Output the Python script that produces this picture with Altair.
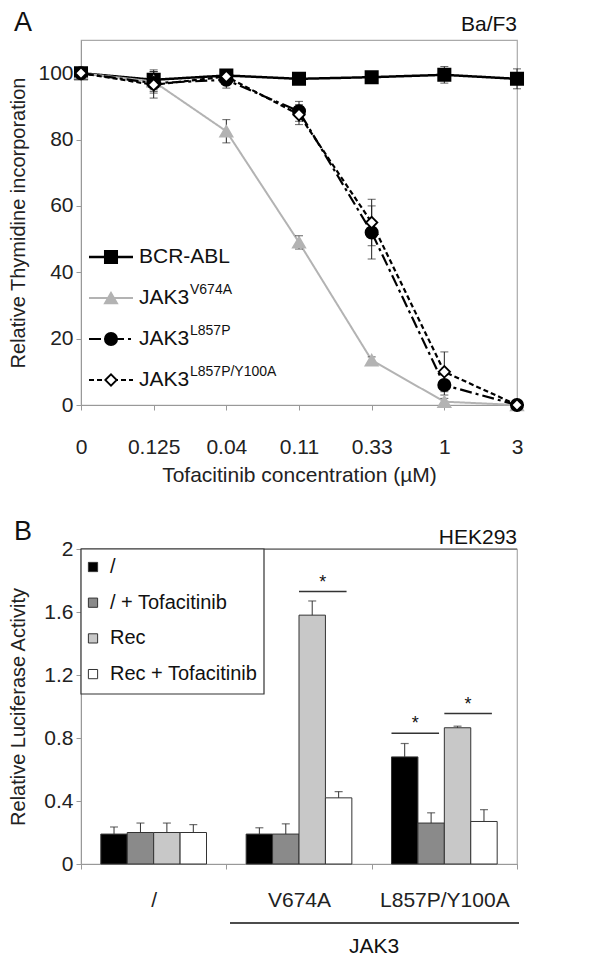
import altair as alt
import pandas as pd

FONT = "Liberation Sans"
FS = 21

# ---------------- Panel A data ----------------
conc = ["0", "0.125", "0.04", "0.11", "0.33", "1", "3"]
series_keys = ["BCR-ABL", "JAK3V674A", "JAK3L857P", "JAK3L857P/Y100A"]
legend_main = ["BCR-ABL", "JAK3", "JAK3", "JAK3"]
legend_sup = ["", "V674A", "L857P", "L857P/Y100A"]

bcr = [100, 98, 99.3, 98.3, 98.8, 99.5, 98.3]
bcr_err = [0, 3, 1, 1.5, 1, 2.5, 3]
v674a = [100, 97.5, 82.5, 49, 13.5, 1, 0]
v674a_err = [0, 3, 3.5, 2, 1, 1, 0]
l857p = [100, 97, 98, 88.5, 52, 6, 0]
l857p_err = [0, 3, 2.5, 3, 8, 3, 0]
l857py = [100, 96.5, 99, 87.5, 55, 10, 0]
l857py_err = [0, 4, 2, 3, 7, 6, 0]

a_values = [bcr, v674a, l857p, l857py]
a_errors = [bcr_err, v674a_err, l857p_err, l857py_err]

a_styles = [
    dict(color="#000000", dash=[1, 0], shape="square", fill="#000000", size=150, sw=2.5),
    dict(color="#b3b3b3", dash=[1, 0], shape="triangle-up", fill="#b3b3b3", size=150, sw=2),
    dict(color="#000000", dash=[12, 4, 3, 4], shape="circle", fill="#000000", size=150, sw=2.2),
    dict(color="#000000", dash=[5, 3], shape="diamond", fill="#ffffff", size=130, sw=2.2),
]

# ---------------- Panel B data ----------------
groups = ["/", "V674A", "L857P/Y100A"]
conds = ["/", "/ + Tofacitinib", "Rec", "Rec + Tofacitinib"]
cond_colors = ["#000000", "#8a8a8a", "#c8c8c8", "#ffffff"]
b_vals = [
    [0.19, 0.20, 0.20, 0.20],
    [0.19, 0.19, 1.58, 0.42],
    [0.68, 0.26, 0.865, 0.27],
]
b_errs = [
    [0.045, 0.06, 0.06, 0.05],
    [0.04, 0.065, 0.09, 0.04],
    [0.085, 0.065, 0.01, 0.075],
]
# significance brackets: group, first bar of the compared pair, height
sig_groups = ["V674A", "L857P/Y100A", "L857P/Y100A"]
sig_first = ["Rec", "/", "Rec"]
sig_y = [1.73, 0.83, 0.955]

W = 436
HA = 365
HB = 315
OFF_PAD = 0.75  # outer padding of the bar-offset scale (in bar widths)
TFS = 20  # y-axis title font size

# ================= Panel A =================
rows = []
for key, vals, errs in zip(series_keys, a_values, a_errors):
    for c, v, e in zip(conc, vals, errs):
        rows.append(dict(series=key, conc=c, val=v, lo=v - e, hi=min(v + e, 110)))
dfa = pd.DataFrame(rows)

x_a = alt.X(
    "conc:O",
    sort=conc,
    scale=alt.Scale(type="point", domain=conc, padding=0),
    axis=alt.Axis(
        title="Tofacitinib concentration (µM)",
        labelAngle=0,
        labelPadding=26,
        titlePadding=7,
        tickSize=5,
    ),
)
y_axis_a = alt.Axis(
    title="Relative Thymidine incorporation",
    titleFontSize=TFS,
    values=[0, 20, 40, 60, 80, 100],
    tickSize=5,
    labelPadding=3,
    titlePadding=9,
)
y_scale_a = alt.Scale(domain=[0, 110], nice=False)

layers_a = []
for key, st in zip(series_keys, a_styles):
    d = dfa[dfa.series == key]
    layers_a.append(
        alt.Chart(d).mark_line(color=st["color"], strokeDash=st["dash"], strokeWidth=st["sw"]).encode(
            x=x_a, y=alt.Y("val:Q", scale=y_scale_a, axis=y_axis_a)
        )
    )
for key, st in zip(series_keys, a_styles):
    d = dfa[(dfa.series == key) & (dfa.hi > dfa.lo)]
    base = alt.Chart(d)
    layers_a.append(
        base.mark_rule(color="#222", strokeWidth=1).encode(
            x=x_a, y=alt.Y("lo:Q", scale=y_scale_a, axis=y_axis_a), y2="hi:Q"
        )
    )
    for fld in ["lo", "hi"]:
        layers_a.append(
            base.mark_tick(color="#222", size=8, thickness=1).encode(
                x=x_a, y=alt.Y(f"{fld}:Q", scale=y_scale_a, axis=y_axis_a)
            )
        )
for key, st in zip(series_keys, a_styles):
    d = dfa[dfa.series == key]
    layers_a.append(
        alt.Chart(d).mark_point(
            shape=st["shape"], size=st["size"], filled=True, fill=st["fill"],
            stroke=st["color"] if st["fill"] != "#ffffff" else "#000000",
            strokeWidth=1.8, opacity=1,
        ).encode(x=x_a, y=alt.Y("val:Q", scale=y_scale_a, axis=y_axis_a))
    )

# manual legend (panel A)
one = pd.DataFrame({"k": [0]})
for i, st in enumerate(a_styles):
    yy = 217 + 41 * i
    lc = alt.Chart(one)
    layers_a.append(
        lc.mark_rule(color=st["color"], strokeDash=st["dash"], strokeWidth=st["sw"]).encode(
            x=alt.value(8), x2=alt.value(52), y=alt.value(yy)
        )
    )
    layers_a.append(
        lc.mark_point(
            shape=st["shape"], size=st["size"], filled=True, fill=st["fill"],
            stroke=st["color"] if st["fill"] != "#ffffff" else "#000000",
            strokeWidth=1.8, opacity=1,
        ).encode(x=alt.value(30), y=alt.value(yy))
    )
    layers_a.append(
        lc.mark_text(text=legend_main[i], align="left", baseline="middle", fontSize=FS, color="#111").encode(
            x=alt.value(58), y=alt.value(yy)
        )
    )
    if legend_sup[i]:
        layers_a.append(
            lc.mark_text(text=legend_sup[i], align="left", baseline="middle", fontSize=14, color="#111").encode(
                x=alt.value(109), y=alt.value(yy - 8)
            )
        )

layers_a.append(
    alt.Chart(one).mark_text(text="A", align="left", baseline="top", fontSize=27, color="#111").encode(
        x=alt.value(-67), y=alt.value(-30)
    )
)
layers_a.append(
    alt.Chart(one).mark_text(text="Ba/F3", align="right", baseline="middle", fontSize=FS, color="#111").encode(
        x=alt.value(W), y=alt.value(-15)
    )
)

panel_a = alt.layer(*layers_a).properties(width=W, height=HA)

# ================= Panel B =================
rowsb = []
for g, vals, errs in zip(groups, b_vals, b_errs):
    for c, v, e in zip(conds, vals, errs):
        rowsb.append(dict(group=g, cond=c, val=v, hi=v + e))
dfb = pd.DataFrame(rowsb)

nslots = len(conds) + 2 * OFF_PAD
sig_rows = []
for g, c, yv in zip(sig_groups, sig_first, sig_y):
    start = groups.index(g) + (OFF_PAD + conds.index(c)) / nslots
    sig_rows.append(dict(x0=start, x1=start + 1.8 / nslots, xm=start + 0.9 / nslots, y=yv))
dfs = pd.DataFrame(sig_rows)

x_b = alt.X(
    "group:N",
    sort=groups,
    scale=alt.Scale(domain=groups, paddingInner=0, paddingOuter=0),
    axis=alt.Axis(title=None, labelAngle=0, tickBand="extent", tickSize=5, labelPadding=20),
)
xo_b = alt.XOffset(
    "cond:N", sort=conds, scale=alt.Scale(domain=conds, paddingOuter=OFF_PAD, paddingInner=0)
)
y_axis_b = alt.Axis(
    title="Relative Luciferase Activity",
    titleFontSize=TFS,
    values=[0, 0.4, 0.8, 1.2, 1.6, 2],
    format=".1~f",
    tickSize=5,
    labelPadding=3,
    titlePadding=15,
)
y_scale_b = alt.Scale(domain=[0, 2], nice=False)

bars = alt.Chart(dfb).mark_bar(stroke="#333", strokeWidth=1, opacity=1).encode(
    x=x_b,
    xOffset=xo_b,
    y=alt.Y("val:Q", scale=y_scale_b, axis=y_axis_b),
    color=alt.Color("cond:N", sort=conds, scale=alt.Scale(domain=conds, range=cond_colors), legend=None),
)
err_rule = alt.Chart(dfb).mark_rule(color="#333", strokeWidth=1).encode(
    x=x_b, xOffset=xo_b, y=alt.Y("val:Q", scale=y_scale_b, axis=y_axis_b), y2="hi:Q"
)
err_cap = alt.Chart(dfb).mark_tick(color="#333", size=8, thickness=1.2).encode(
    x=x_b, xOffset=xo_b, y=alt.Y("hi:Q", scale=y_scale_b, axis=y_axis_b)
)
bar_layer = alt.layer(bars, err_rule, err_cap)

xq = alt.Scale(domain=[0, len(groups)], nice=False, zero=False)
sig_line = alt.Chart(dfs).mark_rule(color="#333", strokeWidth=1.5).encode(
    x=alt.X("x0:Q", scale=xq, axis=None), x2="x1:Q", y=alt.Y("y:Q", scale=y_scale_b, axis=y_axis_b)
)
sig_star = alt.Chart(dfs).mark_text(text="*", fontSize=18, dy=-9, color="#111").encode(
    x=alt.X("xm:Q", scale=xq, axis=None), y=alt.Y("y:Q", scale=y_scale_b, axis=y_axis_b)
)
sig_layer = alt.layer(sig_line, sig_star)

# manual legend (panel B)
leg_layers = [
    alt.Chart(one).mark_rect(fill="white", stroke="#333", strokeWidth=1.2).encode(
        x=alt.value(0), x2=alt.value(183), y=alt.value(0), y2=alt.value(145)
    )
]
for i, (c, col) in enumerate(zip(conds, cond_colors)):
    yy = 18 + 35.7 * i
    leg_layers.append(
        alt.Chart(one).mark_square(size=85, fill=col, stroke="#333", strokeWidth=1, opacity=1).encode(
            x=alt.value(12), y=alt.value(yy)
        )
    )
    leg_layers.append(
        alt.Chart(one).mark_text(text=c, align="left", baseline="middle", fontSize=20, color="#111").encode(
            x=alt.value(29), y=alt.value(yy)
        )
    )

top_line = alt.Chart(one).mark_rule(color="#555", strokeWidth=1.2).encode(
    x=alt.value(0), x2=alt.value(W), y=alt.value(0)
)
jak_line = alt.Chart(one).mark_rule(color="#111", strokeWidth=1.5).encode(
    x=alt.value(149), x2=alt.value(438), y=alt.value(HB + 59)
)
jak_text = alt.Chart(one).mark_text(text="JAK3", fontSize=FS, baseline="middle", color="#111").encode(
    x=alt.value(293), y=alt.value(HB + 83)
)
b_label = alt.Chart(one).mark_text(text="B", align="left", baseline="top", fontSize=27, color="#111").encode(
    x=alt.value(-67), y=alt.value(-30)
)
hek = alt.Chart(one).mark_text(text="HEK293", align="right", baseline="middle", fontSize=FS, color="#111").encode(
    x=alt.value(W), y=alt.value(-11)
)

panel_b = (
    alt.layer(bar_layer, sig_layer, top_line, *leg_layers, jak_line, jak_text, b_label, hek)
    .resolve_scale(x="independent")
    .properties(width=W, height=HB)
)

chart = (
    alt.vconcat(panel_a, panel_b, spacing=31)
    .properties(padding=0)
    .configure(font=FONT)
    .configure_view(stroke="#aaaaaa", strokeWidth=1.2)
    .configure_axis(
        grid=False,
        domainColor="#999999",
        tickColor="#999999",
        labelColor="#222222",
        titleColor="#222222",
        labelFontSize=FS,
        titleFontSize=FS,
        titleFontWeight="normal",
        labelFont=FONT,
        titleFont=FONT,
    )
)

chart.save("out.html", embed_options={"renderer": "svg", "actions": False})
